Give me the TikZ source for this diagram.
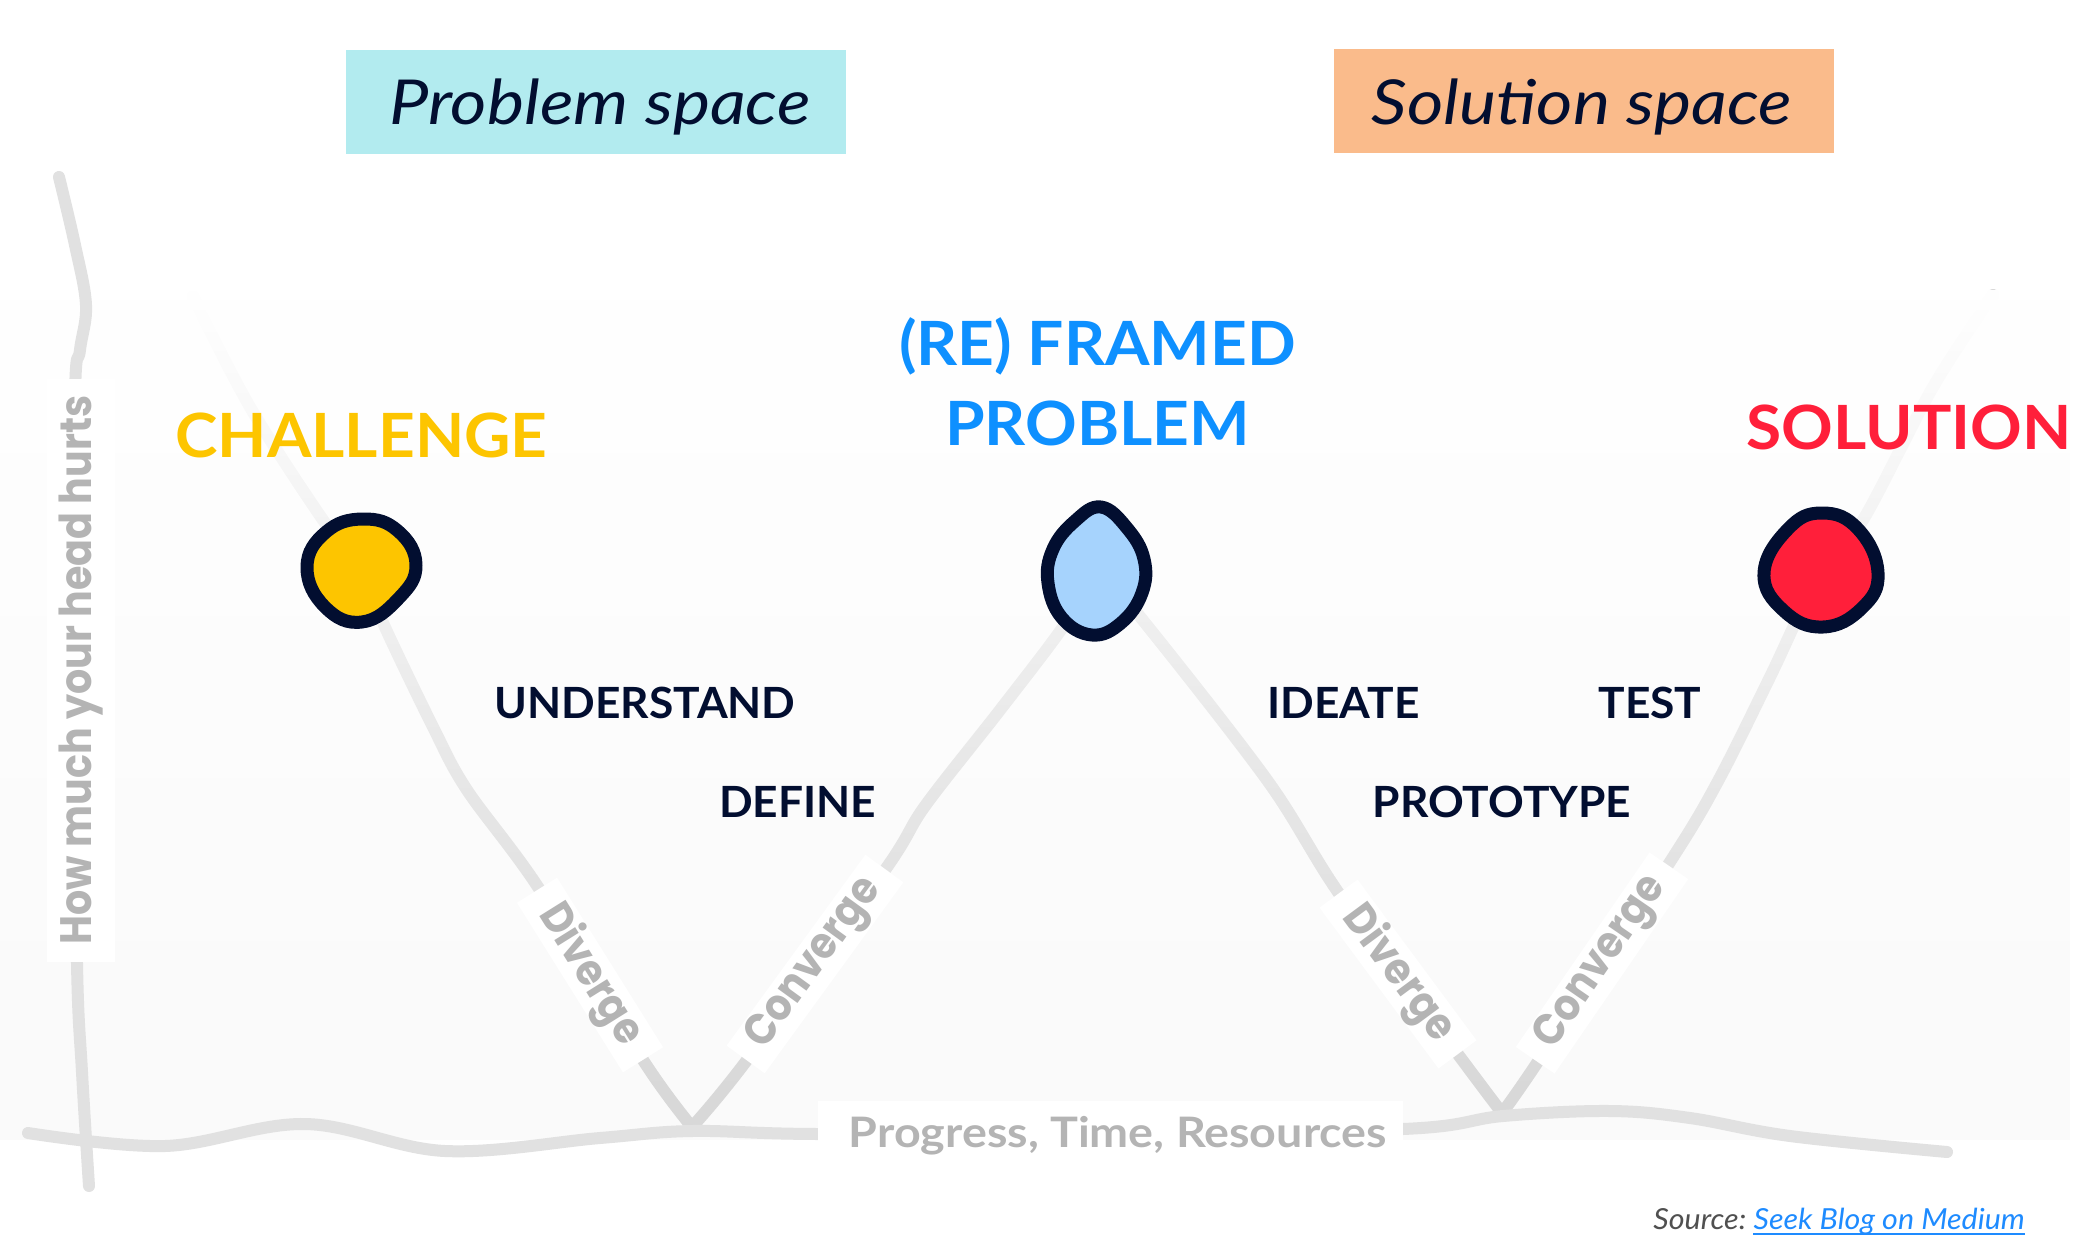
\documentclass[tikz,border=0pt]{standalone}
\usepackage{fontspec}
\setmainfont{Lato}
\newfontfamily\poppn{Poppins}[FakeStretch=0.9]
\newfontfamily\latow{Lato}[FakeStretch=1.05]
\newfontfamily\latoph{Lato}[FakeStretch=1.03]
\newfontfamily\latoit{Lato}[FakeStretch=1.13]
\newfontfamily\latopr{Lato}[FakeStretch=1.11]
\newfontfamily\latosrc{Lato}[FakeStretch=1.05]
\usetikzlibrary{fadings}
\definecolor{navy}{HTML}{020E30}
\definecolor{cyel}{HTML}{FDC500}
\definecolor{cblue}{HTML}{0E90FF}
\definecolor{bluefill}{HTML}{A6D3FD}
\definecolor{cred}{HTML}{FF1F3A}
\definecolor{labg}{HTML}{B4B4B4}
\definecolor{axisg}{HTML}{E1E1E1}
\definecolor{vg}{HTML}{D8D8D8}
\definecolor{panel}{HTML}{FAFAFA}
\definecolor{cyanbox}{HTML}{B2EBEF}
\definecolor{peach}{HTML}{FABB8B}
\definecolor{linkc}{HTML}{1E8BFF}
\definecolor{srcg}{HTML}{505050}
\tikzfading[name=whitefade, top color=transparent!0, bottom color=transparent!100]
\begin{document}
\begin{tikzpicture}[x=1pt,y=-1pt,
  vline/.style={line width=12, color=vg, line cap=round, line join=round},
  axline/.style={line width=12, color=axisg, line cap=round, line join=round},
  blobline/.style={line width=13, draw=navy, line join=round},
  spacebox/.style={minimum width=500, minimum height=104, inner sep=0, draw=none},
  spacetxt/.style={font=\latoit\fontsize{62}{70}\selectfont\itshape, text=navy, anchor=base, inner sep=0},
  bigt/.style={font=\latow\fontsize{61}{70}\selectfont\bfseries, anchor=base, inner sep=0},
  phase/.style={font=\latoph\fontsize{43}{50}\selectfont\bfseries, text=navy, anchor=base, inner sep=0},
  rlab/.style={fill=white, text=labg, font=\poppn\fontsize{44}{50}\selectfont\bfseries, inner sep=0, minimum height=47},
  ]
\useasboundingbox (0,0) rectangle (2100,1260);
\fill[white] (0,0) rectangle (2100,1260);
\fill[panel] (0,300) rectangle (2070,1140);

% key coordinates
\coordinate (la0) at (193,297);
\coordinate (chal) at (362,570);
\coordinate (v1) at (692,1127);
\coordinate (refr) at (1097,571);
\coordinate (v2) at (1502,1113);
\coordinate (sol) at (1821,571);
\coordinate (ra1) at (1993,295);
\coordinate (ha0) at (28,1133);
\coordinate (ha1) at (1947,1152);
\coordinate (va0) at (59,177);
\coordinate (va1) at (89,1186);

% V lines
\draw[vline] plot[smooth, tension=0.55] coordinates {(la0) (250,407) (323,520) (chal) (384,625) (433,727) (467,790) (540,890) (643,1060) (v1)};
\draw[vline] plot[smooth, tension=0.55] coordinates {(v1) (747,1060) (885,870) (925,806) (1000,710) (1063,627) (refr)};
\draw[vline] plot[smooth, tension=0.55] coordinates {(refr) (1137,613) (1267,780) (1340,895) (1457,1053) (v2)};
\draw[vline] plot[smooth, tension=0.55] coordinates {(v2) (1537,1063) (1668,865) (1717,783) (1770,677) (sol) (1863,520) (1933,387) (ra1)};

% fade
\fill[white, path fading=whitefade] (0,290) rectangle (2100,1100);

% axes
\draw[axline] plot[smooth, tension=0.6] coordinates {(ha0) (165,1146) (305,1124) (445,1151) (600,1138) (692,1131) (818,1134) (1110,1133) (1403,1129) (1503,1116) (1610,1111) (1690,1118) (1790,1136) (ha1)};
\draw[axline] plot[smooth, tension=0.6] coordinates {(va0) (75,245) (86,305) (80,350) (75,400) (75,700) (77,963) (82,1072) (va1)};

% axis labels
\node[fill=white, rotate=90, minimum width=583, minimum height=68, inner sep=0, text=labg, font=\poppn\fontsize{44}{50}\selectfont\bfseries] (ylab) at (81,670) {How much your head hurts};
\node[fill=white, minimum width=585, minimum height=64, inner sep=0] (xbox) at (1110.5,1133) {};
\node[anchor=base, inner sep=0, text=labg, font=\latopr\fontsize{42}{48}\selectfont\bfseries] (xlab) at (1118,1147) {Progress, Time, Resources};

% diverge / converge labels
\node[rlab, rotate=-58, minimum width=200] (d1) at (590,975) {Diverge};
\node[rlab, rotate=54, minimum width=236] (c1) at (815,964) {Converge};
\node[rlab, rotate=-53.5, minimum width=200] (d2) at (1398,974) {Diverge};
\node[rlab, rotate=55.5, minimum width=236] (c2) at (1602,963) {Converge};

% blobs
\draw[blobline, fill=cyel, shift={(chal)}] plot[smooth cycle, tension=0.75] coordinates {(1,-51) (36,-39) (54,-5) (37,28) (0,52) (-37,37) (-55,-3) (-36,-38)};
\draw[blobline, fill=bluefill, shift={(refr)}] plot[smooth cycle, tension=0.7] coordinates {(4,-64) (30,-43) (47,-12) (45,22) (24,52) (-5,64) (-35,47) (-49,12) (-44,-22) (-22,-50)};
\draw[blobline, fill=cred, shift={(sol)}] plot[smooth cycle, tension=0.75] coordinates {(1,-58) (37,-42) (57,2) (41,37) (2,56) (-37,40) (-57,2) (-33,-42)};

% space boxes
\node[spacebox, fill=cyanbox] (pbox) at (596,102) {};
\node[spacetxt] (ptxt) at (600,124.5) {Problem space};
\node[spacebox, fill=peach] (sbox) at (1584,101.5) {};
\node[spacetxt] (stxt) at (1582,125) {Solution space};

% big titles
\node[bigt, text=cyel] (tchal) at (361.5,457) {CHALLENGE};
\node[bigt, text=cblue] (tref1) at (1097.5,365) {(RE) FRAMED};
\node[bigt, text=cblue] (tref2) at (1097.5,445) {PROBLEM};
\node[bigt, text=cred] (tsol) at (1909,449) {SOLUTION};

% phases
\node[phase] (understand) at (645,718) {UNDERSTAND};
\node[phase] (define) at (797.5,817) {DEFINE};
\node[phase] (ideate) at (1343.5,718) {IDEATE};
\node[phase] (test) at (1650,718) {TEST};
\node[phase] (proto) at (1502,817) {PROTOTYPE};

% source
\node[anchor=base east, inner sep=0, text=linkc, font=\latosrc\fontsize{29}{33}\selectfont\itshape] (srclink) at (2025,1229) {Seek Blog on Medium};
\node[anchor=base east, inner sep=0, text=srcg, font=\latosrc\fontsize{29}{33}\selectfont\itshape] (srclab) at ([xshift=-7]srclink.base west) {Source:};
\draw[linkc, line width=1.5] ([yshift=-5]srclink.base west) -- ([yshift=-5]srclink.base east);
\end{tikzpicture}
\end{document}
